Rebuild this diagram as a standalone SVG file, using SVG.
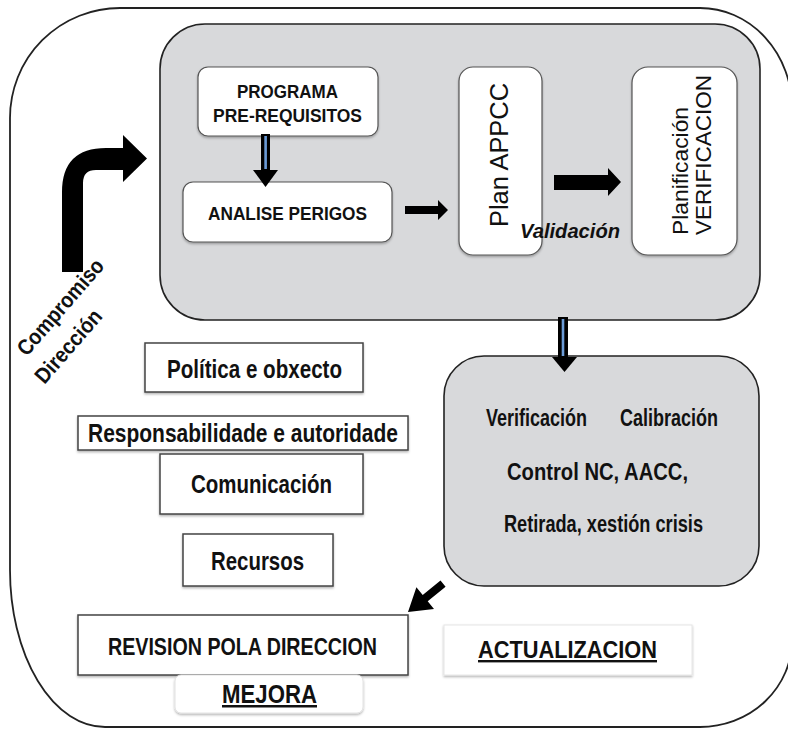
<svg xmlns="http://www.w3.org/2000/svg" width="788" height="729" viewBox="0 0 788 729">
<defs>
<filter id="sh" x="-10%" y="-10%" width="120%" height="130%">
<feDropShadow dx="0" dy="1.5" stdDeviation="1.2" flood-color="#000" flood-opacity="0.3"/>
</filter>
</defs>
<style>
.t{font-family:"Liberation Sans",Arial,Helvetica,sans-serif;fill:#111;}
.b{font-weight:bold;}
.panel{fill:#d8d9db;stroke:#222;stroke-width:1.6;}
.wbox{fill:#fff;stroke:#555;stroke-width:1.2;}
.sbox{fill:#fff;stroke:#444;stroke-width:1.5;}
.arr{fill:#000;}
</style>
<rect width="788" height="729" fill="#fff"/>
<g id="frame">
<path d="M120,8 H700 A92,100 0 0 1 792,108 V640 A92,87 0 0 1 700,727 H105 A95,157 0 0 1 10,570 V118 A110,110 0 0 1 120,8 Z" fill="none" stroke="#222" stroke-width="1.8"/>
</g>
<g id="panel-top"><rect class="panel" x="160" y="24" width="600" height="296" rx="45"/></g>
<g id="panel-bottom">
<rect class="panel" x="444" y="356" width="315" height="230" rx="40"/>
<text class="t b" x="486" y="426" font-size="23" textLength="101" lengthAdjust="spacingAndGlyphs">Verificación</text>
<text class="t b" x="620" y="426" font-size="23" textLength="98" lengthAdjust="spacingAndGlyphs">Calibración</text>
<text class="t b" x="507" y="480" font-size="23" textLength="181" lengthAdjust="spacingAndGlyphs">Control NC, AACC,</text>
<text class="t b" x="504" y="532" font-size="23" textLength="199" lengthAdjust="spacingAndGlyphs">Retirada, xestión crisis</text>
</g>
<g id="programa">
<rect class="wbox" x="198" y="67" width="180" height="69" rx="10" filter="url(#sh)"/>
<text class="t b" x="237" y="98" font-size="19" textLength="101" lengthAdjust="spacingAndGlyphs">PROGRAMA</text>
<text class="t b" x="213" y="122" font-size="19" textLength="149" lengthAdjust="spacingAndGlyphs">PRE-REQUISITOS</text>
</g>
<g id="analise">
<rect class="wbox" x="183" y="182" width="209" height="60" rx="10" filter="url(#sh)"/>
<text class="t b" x="208" y="220" font-size="19" textLength="159" lengthAdjust="spacingAndGlyphs">ANALISE PERIGOS</text>
</g>
<g id="plan-appcc">
<rect class="wbox" x="459" y="67" width="83" height="188" rx="14" filter="url(#sh)"/>
<text class="t" transform="translate(508,227) rotate(-90)" font-size="25" textLength="144" lengthAdjust="spacingAndGlyphs">Plan APPCC</text>
</g>
<g id="planificacion">
<rect class="wbox" x="632" y="67" width="105" height="188" rx="16" filter="url(#sh)"/>
<text class="t" transform="translate(688,235) rotate(-90)" font-size="22" textLength="128" lengthAdjust="spacingAndGlyphs">Planificación</text>
<text class="t" transform="translate(711,235) rotate(-90)" font-size="22" textLength="160" lengthAdjust="spacingAndGlyphs">VERIFICACION</text>
</g>
<g id="validacion">
<text class="t b" x="520" y="238" font-size="21" font-style="italic" textLength="100" lengthAdjust="spacingAndGlyphs">Validación</text>
</g>
<g id="compromiso">
<text class="t b" transform="translate(66,312) rotate(-49)" font-size="22" text-anchor="middle" textLength="120" lengthAdjust="spacingAndGlyphs">Compromiso</text>
<text class="t b" transform="translate(74,351) rotate(-49)" font-size="22" text-anchor="middle" textLength="90" lengthAdjust="spacingAndGlyphs">Dirección</text>
</g>
<g id="politica">
<rect class="sbox" x="145" y="343" width="218" height="49" filter="url(#sh)"/>
<text class="t b" x="167" y="378" font-size="25" textLength="175" lengthAdjust="spacingAndGlyphs">Política e obxecto</text>
</g>
<g id="responsabilidade">
<rect class="sbox" x="78" y="416" width="330" height="34" filter="url(#sh)"/>
<text class="t b" x="88" y="442" font-size="25" textLength="310" lengthAdjust="spacingAndGlyphs">Responsabilidade e autoridade</text>
</g>
<g id="comunicacion">
<rect class="sbox" x="160" y="454" width="203" height="60" filter="url(#sh)"/>
<text class="t b" x="191" y="493" font-size="25" textLength="141" lengthAdjust="spacingAndGlyphs">Comunicación</text>
</g>
<g id="recursos">
<rect class="sbox" x="183" y="534" width="150" height="52" filter="url(#sh)"/>
<text class="t b" x="211" y="570" font-size="25" textLength="93" lengthAdjust="spacingAndGlyphs">Recursos</text>
</g>
<g id="revision">
<rect class="sbox" x="78" y="615" width="330" height="60" filter="url(#sh)"/>
<text class="t b" x="108" y="655" font-size="23" textLength="269" lengthAdjust="spacingAndGlyphs">REVISION POLA DIRECCION</text>
</g>
<g id="mejora">
<rect x="175" y="675" width="188" height="38" rx="6" fill="#fff" stroke="#e2e2e2" stroke-width="1" filter="url(#sh)"/>
<text class="t b" x="222" y="703" font-size="25" textLength="95" lengthAdjust="spacingAndGlyphs" text-decoration="underline">MEJORA</text>
</g>
<g id="actualizacion">
<rect x="444" y="625" width="248" height="50" fill="#fff" stroke="#e6e6e6" stroke-width="1" filter="url(#sh)"/>
<text class="t b" x="478" y="658" font-size="24" textLength="179" lengthAdjust="spacingAndGlyphs" text-decoration="underline">ACTUALIZACION</text>
</g>
<g id="connectors">
<path class="arr" d="M62,272 V192 Q62,148 106,148 H123 V135 L147,158.5 L123,182 V170 H96 Q83,170 83,183 V272 Z"/>
<rect x="261" y="134" width="9" height="37" fill="#000"/>
<rect x="264.3" y="136" width="2.6" height="33" fill="#6b9bd6"/>
<polygon class="arr" points="253,170 278,170 265.5,187"/>
<polygon class="arr" points="405,206 438,206 438,200 448,210 438,220 438,214 405,214"/>
<polygon class="arr" points="554,175 608,175 608,168 621,182 608,196 608,190 554,190"/>
<rect x="558" y="317" width="10" height="41" fill="#000"/>
<rect x="561.7" y="319" width="2.6" height="37" fill="#6b9bd6"/>
<polygon class="arr" points="552,357 577,357 564.5,372"/>
<polygon class="arr" points="408,612 434,609 427.7,601.2 445.6,586.7 440.5,580.5 422.7,595 416.4,587.2"/>
</g>
</svg>
